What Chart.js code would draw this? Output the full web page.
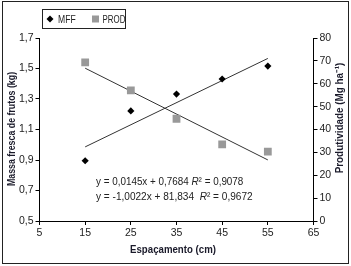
<!DOCTYPE html>
<html>
<head>
<meta charset="utf-8">
<script src="https://cdn.jsdelivr.net/npm/chart.js@4/dist/chart.umd.min.js"></script>
<style>
  html, body { margin: 0; padding: 0; background: #fff; }
  #wrap { width: 351px; height: 266px; }
</style>
</head>
<body>
<div id="wrap"><canvas id="chart" width="351" height="266"></canvas></div>
<script>
// données
const espacamento = [15, 25, 35, 45, 55];
const mff = [0.895, 1.222, 1.332, 1.431, 1.516];
const prod = [69.3, 57.1, 44.7, 33.5, 30.3];

// droites de tendance (extrémités 15 et 55 cm)
const trendX = [15, 55];
const mffTrend = [0.986, 1.566];
const prodTrend = [66.8, 26.7];

const xTicks = [5, 15, 25, 35, 45, 55, 65];
const yLeftTicks = [0.5, 0.7, 0.9, 1.1, 1.3, 1.5, 1.7];
const yRightTicks = [0, 10, 20, 30, 40, 50, 60, 70, 80];

const eqMff = ["y = 0,0145x + 0,7684 ", "R", "² = 0,9078"];
const eqProd = ["y = -1,0022x + 81,834  ", "R", "² = 0,9672"];

const FONT = "'Liberation Sans', Arial, sans-serif";
const txtColor = "#222";

const toPts = (xs, ys) => xs.map((x, i) => ({ x: x, y: ys[i] }));
const comma = v => String(v).replace(".", ",");

// texte "étroit" : on compresse horizontalement (pas d'Arial Narrow ici)
function narrowText(ctx, text, x, y, sx) {
  ctx.save();
  ctx.translate(x, y);
  ctx.scale(sx, 1);
  ctx.fillText(text, 0, 0);
  const w = ctx.measureText(text).width * sx;
  ctx.restore();
  return w;
}

// légende encadrée, équations, titres des axes et cadre
const decor = {
  id: "decor",
  afterDraw(chart) {
    const ctx = chart.ctx;
    ctx.save();

    // cadre extérieur
    ctx.strokeStyle = "#222";
    ctx.lineWidth = 1;
    ctx.strokeRect(2.5, 1.5, 346, 262);

    // légende
    ctx.strokeRect(42.5, 9.5, 83, 19);
    ctx.fillStyle = "#000";
    ctx.beginPath();
    ctx.moveTo(50, 15.5); ctx.lineTo(53.5, 19); ctx.lineTo(50, 22.5); ctx.lineTo(46.5, 19);
    ctx.closePath(); ctx.fill();
    ctx.fillStyle = "#999";
    ctx.fillRect(92, 15.5, 7, 7);
    ctx.fillStyle = txtColor;
    ctx.font = "11px " + FONT;
    ctx.textBaseline = "middle";
    narrowText(ctx, "MFF", 58, 19.5, 0.78);
    narrowText(ctx, "PROD", 102.5, 19.5, 0.72);

    // équations
    const drawEq = (parts, x, y, sx) => {
      ctx.font = "10.5px " + FONT;
      x += narrowText(ctx, parts[0], x, y, sx);
      ctx.font = "italic 10.5px " + FONT;
      x += narrowText(ctx, parts[1], x, y, sx);
      ctx.font = "10.5px " + FONT;
      narrowText(ctx, parts[2], x, y, sx);
    };
    drawEq(eqMff, 96, 182.5, 0.94);
    drawEq(eqProd, 96, 197.5, 0.96);

    // titres des axes
    ctx.font = "bold 10.5px " + FONT;
    ctx.textAlign = "center";
    ctx.fillStyle = "#1a1a2a";
    narrowText(ctx, "Espaçamento (cm)", 173, 250, 0.92);

    ctx.save();
    ctx.translate(12, 129);
    ctx.rotate(-Math.PI / 2);
    narrowText(ctx, "Massa fresca de frutos (kg)", 0, 0, 0.84);
    ctx.restore();

    ctx.save();
    ctx.translate(340, 118);
    ctx.rotate(-Math.PI / 2);
    narrowText(ctx, "Produtividade (Mg ha⁻¹)", 0, 0, 0.94);
    ctx.restore();

    ctx.restore();
  }
};

const tickFont = { family: FONT, size: 10.5 };

new Chart(document.getElementById("chart"), {
  type: "scatter",
  data: {
    datasets: [
      {
        label: "MFF",
        data: toPts(espacamento, mff),
        yAxisID: "y",
        pointStyle: "rectRot",
        pointRadius: 3.6,
        backgroundColor: "#000",
        borderColor: "#000",
        borderWidth: 0
      },
      {
        label: "PROD",
        data: toPts(espacamento, prod),
        yAxisID: "y1",
        pointStyle: "rect",
        pointRadius: 5.5,
        backgroundColor: "#999",
        borderColor: "#999",
        borderWidth: 0
      },
      {
        label: "trend MFF",
        type: "line",
        data: toPts(trendX, mffTrend),
        yAxisID: "y",
        borderColor: "#333",
        borderWidth: 1,
        pointRadius: 0,
        fill: false
      },
      {
        label: "trend PROD",
        type: "line",
        data: toPts(trendX, prodTrend),
        yAxisID: "y1",
        borderColor: "#333",
        borderWidth: 1,
        pointRadius: 0,
        fill: false
      }
    ]
  },
  options: {
    responsive: false,
    animation: false,
    layout: { padding: { top: 38, left: 0, right: 0, bottom: 0 } },
    plugins: { legend: { display: false }, tooltip: { enabled: false } },
    scales: {
      x: {
        type: "linear",
        min: 5,
        max: 65,
        afterBuildTicks: s => { s.ticks = xTicks.map(v => ({ value: v })); },
        afterFit: s => { s.height = 45; },
        ticks: { color: txtColor, font: tickFont, padding: 2, callback: v => comma(v) },
        grid: { drawOnChartArea: false, drawTicks: true, tickLength: 4, color: "#000" },
        border: { color: "#000", width: 1 }
      },
      y: {
        position: "left",
        min: 0.5,
        max: 1.7,
        afterBuildTicks: s => { s.ticks = yLeftTicks.map(v => ({ value: v })); },
        afterFit: s => { s.width = 39.5; },
        ticks: { color: txtColor, font: tickFont, padding: 2, callback: v => comma(v) },
        grid: { drawOnChartArea: false, drawTicks: true, tickLength: 4, color: "#000" },
        border: { color: "#000", width: 1 }
      },
      y1: {
        position: "right",
        min: 0,
        max: 80,
        afterBuildTicks: s => { s.ticks = yRightTicks.map(v => ({ value: v })); },
        afterFit: s => { s.width = 37.5; },
        ticks: { color: txtColor, font: tickFont, padding: 2 },
        grid: { drawOnChartArea: false, drawTicks: true, tickLength: 4, color: "#000" },
        border: { color: "#000", width: 1 }
      }
    }
  },
  plugins: [decor]
});
</script>
</body>
</html>
